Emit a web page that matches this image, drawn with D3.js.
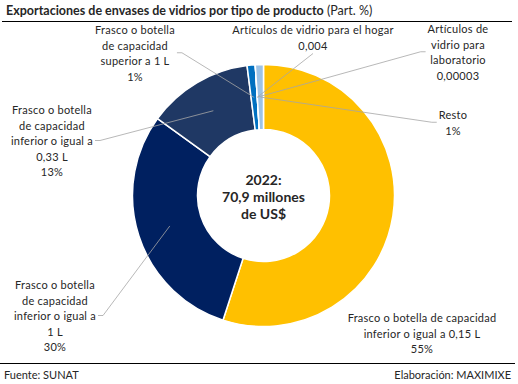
<!DOCTYPE html>
<html>
<head>
<meta charset="utf-8">
<script src="https://cdn.jsdelivr.net/npm/d3@7"></script>
<style>
  body { margin: 0; background: #fff; }
  text { font-family: Lato, "Liberation Sans", sans-serif; fill: #262626; }
</style>
</head>
<body>
<script>
// data, clockwise from 12 o'clock
var categories = [
  ["Frasco o botella de capacidad", "inferior o igual a 0,15 L"],
  ["Frasco o botella", "de capacidad", "inferior o igual a", "1 L"],
  ["Frasco o botella", "de capacidad", "inferior o igual a", "0,33 L"],
  ["Frasco o botella", "de capacidad", "superior a 1 L"],
  ["Artículos de vidrio para el hogar"],
  ["Artículos de", "vidrio para", "laboratorio"],
  ["Resto"]
];
var shares = [55, 30, 13, 1, 0.004, 0.00003, 1];
var shareLabels = ["55%", "30%", "13%", "1%", "0,004", "0,00003", "1%"];
var colors = ["#ffc000", "#002060", "#1f3864", "#0070c0", "#bdd7ee", "#d9d9d9", "#9dc3e6"];

// label layout: centre x, first baseline, leader side
var labelPos = [
  { x: 422, y: 322, side: null },
  { x: 55, y: 289, side: "right" },
  { x: 52, y: 114, side: "right" },
  { x: 135, y: 34, side: "right" },
  { x: 313, y: 34, side: "bottom" },
  { x: 458, y: 33, side: "left" },
  { x: 453, y: 119, side: "left" }
];

var width = 518, height = 384;
var cx = 263.5, cy = 195.5, rOuter = 131, rInner = 66;
var lineH = 15.5;

var svg = d3.select("body").append("svg")
  .attr("width", width)
  .attr("height", height);

// title
var title = svg.append("text")
  .attr("x", 6)
  .attr("y", 15)
  .attr("font-size", "12.5px");
title.append("tspan")
  .attr("font-weight", "bold")
  .text("Exportaciones de envases de vidrios por tipo de producto");
title.append("tspan")
  .text(" (Part. %)");

svg.append("line")
  .attr("x1", 2).attr("x2", 512)
  .attr("y1", 21.5).attr("y2", 21.5)
  .attr("stroke", "#000").attr("stroke-width", 1);

svg.append("line")
  .attr("x1", 0).attr("x2", 515)
  .attr("y1", 363.5).attr("y2", 363.5)
  .attr("stroke", "#000").attr("stroke-width", 1);

svg.append("text")
  .attr("x", 4).attr("y", 379)
  .attr("font-size", "11px")
  .text("Fuente: SUNAT");

svg.append("text")
  .attr("x", 511).attr("y", 379)
  .attr("text-anchor", "end")
  .attr("font-size", "11px")
  .text("Elaboración: MAXIMIXE");

// donut
var pie = d3.pie().sort(null).value(function (d) { return d; });
var arcs = pie(shares);

var arc = d3.arc().innerRadius(rInner).outerRadius(rOuter);
var midArc = d3.arc().innerRadius((rInner + rOuter) / 2).outerRadius((rInner + rOuter) / 2);

var g = svg.append("g").attr("transform", "translate(" + cx + "," + cy + ")");

g.selectAll("path")
  .data(arcs)
  .enter()
  .append("path")
  .attr("d", arc)
  .attr("fill", function (d, i) { return colors[i]; })
  .attr("stroke", "#fff")
  .attr("stroke-width", 1.5);

// labels
var leaders = svg.append("g");
var labels = svg.selectAll("text.lbl")
  .data(arcs)
  .enter()
  .append("text")
  .attr("class", "lbl")
  .attr("font-size", "11px")
  .attr("letter-spacing", "0.25px")
  .attr("text-anchor", "middle");

labels.each(function (d, i) {
  var t = d3.select(this);
  var lines = categories[i].concat([shareLabels[i]]);
  lines.forEach(function (s, k) {
    t.append("tspan")
      .attr("x", labelPos[i].x)
      .attr("y", labelPos[i].y + k * lineH)
      .text(s);
  });
  if (!labelPos[i].side) return;
  var b = this.getBBox();
  var c = midArc.centroid(d);
  var end = [cx + c[0], cy + c[1]];
  var pts;
  if (labelPos[i].side === "right") {
    var sy = b.y + b.height / 2;
    pts = [[b.x + b.width + 2, sy], [b.x + b.width + 7, sy], end];
  } else if (labelPos[i].side === "left") {
    var ly = b.y + b.height / 2;
    pts = [[b.x - 2, ly], [b.x - 7, ly], end];
  } else {
    pts = [[labelPos[i].x, b.y + b.height + 2], end];
  }
  leaders.append("path")
    .attr("d", d3.line()(pts))
    .attr("fill", "none")
    .attr("stroke", "#a6a6a6")
    .attr("stroke-width", 0.8);
});

// centre text
var centre = svg.append("text")
  .attr("text-anchor", "middle")
  .attr("font-size", "14px")
  .attr("font-weight", "bold");
["2022:", "70,9 millones", "de US$"].forEach(function (s, k) {
  centre.append("tspan")
    .attr("x", cx)
    .attr("y", 185 + k * 17)
    .text(s);
});
</script>
</body>
</html>
